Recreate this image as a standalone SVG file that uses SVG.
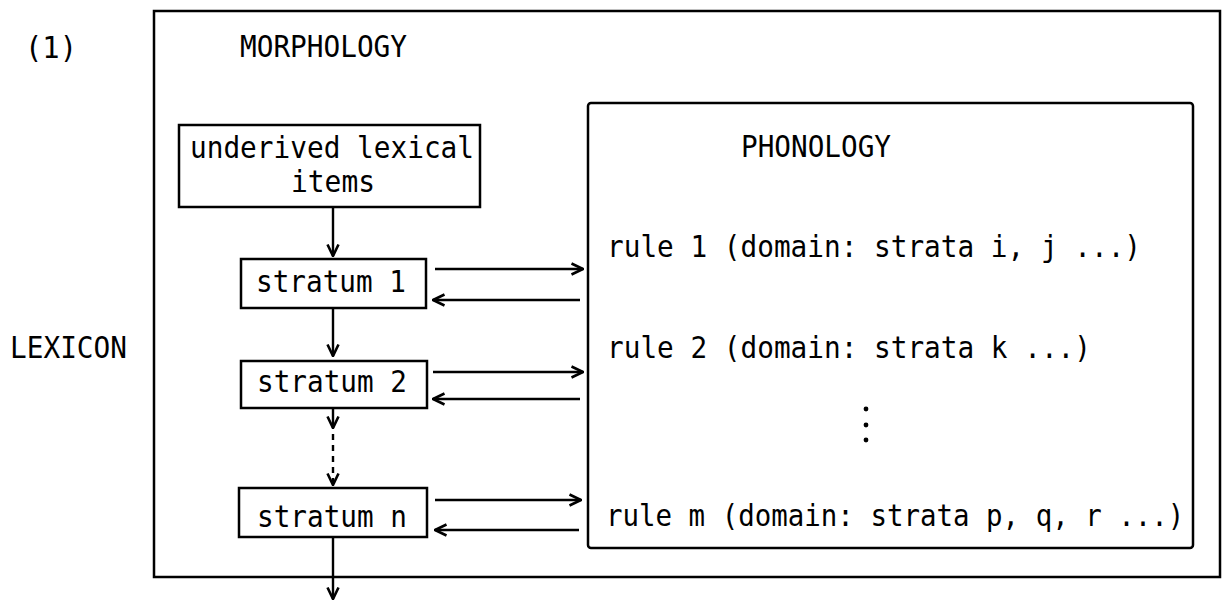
<svg xmlns="http://www.w3.org/2000/svg" width="1223" height="601" viewBox="0 0 1223 601">
<style>
  .box{fill:none;stroke:#000;stroke-width:2.5}
  .t{font-family:"DejaVu Sans Mono","Liberation Mono",monospace;font-size:31px;fill:#000}
  .c{fill:none;stroke:#000;stroke-width:2.4}
  .d{stroke-dasharray:6 5}
</style>
<defs>
  <marker id="ah" viewBox="0 0 14 14" refX="13" refY="7" markerWidth="14" markerHeight="14" markerUnits="userSpaceOnUse" orient="auto">
    <path d="M1.5,1.5 L13,7 L1.5,12.5" fill="none" stroke="#000" stroke-width="2.6"/>
  </marker>
</defs>
<rect width="1223" height="601" fill="#fff"/>

<text class="t" x="25" y="58" textLength="52" lengthAdjust="spacingAndGlyphs">(1)</text>
<text class="t" x="10" y="358" textLength="117" lengthAdjust="spacingAndGlyphs">LEXICON</text>

<g id="morphology">
  <rect class="box" x="154" y="11" width="1066" height="566"/>
  <text class="t" x="240" y="57" textLength="167" lengthAdjust="spacingAndGlyphs">MORPHOLOGY</text>
</g>

<g id="underived">
  <rect class="box" x="179" y="125" width="301" height="82"/>
  <text class="t" x="190" y="158" textLength="284" lengthAdjust="spacingAndGlyphs">underived lexical</text>
  <text class="t" x="291" y="192" textLength="84" lengthAdjust="spacingAndGlyphs">items</text>
</g>

<g id="stratum1">
  <rect class="box" x="241" y="259" width="185" height="49"/>
  <text class="t" x="256" y="292" textLength="150" lengthAdjust="spacingAndGlyphs">stratum 1</text>
</g>

<g id="stratum2">
  <rect class="box" x="241" y="361" width="186" height="47"/>
  <text class="t" x="257" y="392" textLength="150" lengthAdjust="spacingAndGlyphs">stratum 2</text>
</g>

<g id="stratumn">
  <rect class="box" x="239" y="488" width="188" height="49"/>
  <text class="t" x="257" y="527" textLength="150" lengthAdjust="spacingAndGlyphs">stratum n</text>
</g>

<g id="phonology">
  <rect class="box" x="588" y="103" width="605" height="445" rx="3"/>
  <text class="t" x="741" y="157" textLength="150" lengthAdjust="spacingAndGlyphs">PHONOLOGY</text>
  <text class="t" x="607" y="257" textLength="534" lengthAdjust="spacingAndGlyphs">rule 1 (domain: strata i, j ...)</text>
  <text class="t" x="607" y="358" textLength="484" lengthAdjust="spacingAndGlyphs">rule 2 (domain: strata k ...)</text>
  <circle cx="866" cy="409" r="2.4"/>
  <circle cx="866" cy="425" r="2.4"/>
  <circle cx="866" cy="440" r="2.4"/>
  <text class="t" transform="translate(606,526) scale(0.886,1)" x="0" y="0">rule m (domain: strata p, q, r ...)</text>
</g>

<g id="connectors">
  <line class="c" x1="333" y1="207" x2="333" y2="256" marker-end="url(#ah)"/>
  <line class="c" x1="333" y1="308" x2="333" y2="356" marker-end="url(#ah)"/>
  <line class="c" x1="333" y1="408" x2="333" y2="428" marker-end="url(#ah)"/>
  <line class="c d" x1="333" y1="434" x2="333" y2="485" marker-end="url(#ah)"/>
  <line class="c" x1="333" y1="537" x2="333" y2="599" marker-end="url(#ah)"/>

  <line class="c" x1="435" y1="269" x2="583" y2="269" marker-end="url(#ah)"/>
  <line class="c" x1="580" y1="300" x2="433" y2="300" marker-end="url(#ah)"/>
  <line class="c" x1="433" y1="372" x2="583" y2="372" marker-end="url(#ah)"/>
  <line class="c" x1="580" y1="399" x2="433" y2="399" marker-end="url(#ah)"/>
  <line class="c" x1="435" y1="500" x2="581" y2="500" marker-end="url(#ah)"/>
  <line class="c" x1="579" y1="530" x2="435" y2="530" marker-end="url(#ah)"/>
</g>
</svg>
